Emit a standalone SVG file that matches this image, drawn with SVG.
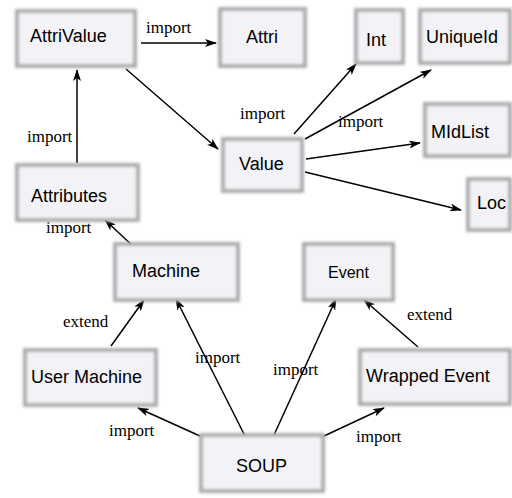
<svg xmlns="http://www.w3.org/2000/svg" width="512" height="498" viewBox="0 0 512 498">
<style>
.box{fill:#f3f3f7;stroke:#ababab;stroke-width:4;filter:url(#blur)}
.t{font-family:"Liberation Sans",Arial,sans-serif;font-size:18px;font-weight:normal;fill:#000}
.lbl{font-family:"Liberation Serif","Times New Roman",serif;font-size:17px;fill:#000}
.e{stroke:#000;stroke-width:1.5;fill:none;marker-end:url(#arr)}
</style>
<defs>
<filter id="blur" x="-10%" y="-10%" width="120%" height="120%"><feGaussianBlur stdDeviation="1.5"/></filter>
<marker id="arr" viewBox="0 0 12 8" refX="11" refY="4" markerWidth="12" markerHeight="8" markerUnits="userSpaceOnUse" orient="auto">
<path d="M0,0 L12,4 L0,8 L3,4 Z" fill="#000"/>
</marker>
</defs>
<rect width="512" height="498" fill="#fff"/>
<g id="connectors">
<line class="e" x1="141" y1="43" x2="216" y2="43"/>
<line class="e" x1="126" y1="69" x2="218" y2="149"/>
<line class="e" x1="77" y1="163" x2="77" y2="70"/>
<line class="e" x1="134" y1="247" x2="105" y2="220"/>
<line class="e" x1="294" y1="134" x2="356" y2="64"/>
<line class="e" x1="305" y1="139" x2="431" y2="70"/>
<line class="e" x1="306" y1="159" x2="420" y2="143"/>
<line class="e" x1="305" y1="172" x2="461" y2="210"/>
<line class="e" x1="111" y1="346" x2="144" y2="300"/>
<line class="e" x1="200" y1="436" x2="138" y2="408"/>
<line class="e" x1="245" y1="436" x2="176" y2="299"/>
<line class="e" x1="274" y1="435" x2="336" y2="299"/>
<line class="e" x1="418" y1="347" x2="364" y2="300"/>
<line class="e" x1="324" y1="436" x2="384" y2="408"/>
</g>
<g id="labels">
<text class="lbl" x="146" y="33">import</text>
<text class="lbl" x="240" y="119">import</text>
<text class="lbl" x="338" y="127">import</text>
<text class="lbl" x="27" y="142">import</text>
<text class="lbl" x="46" y="233">import</text>
<text class="lbl" x="63" y="327">extend</text>
<text class="lbl" x="195" y="363">import</text>
<text class="lbl" x="273" y="375">import</text>
<text class="lbl" x="407" y="320">extend</text>
<text class="lbl" x="109" y="436">import</text>
<text class="lbl" x="356" y="442">import</text>
</g>
<g id="AttriValue"><rect class="box" x="17" y="11" width="118" height="55"/><text class="t" x="30" y="42">AttriValue</text></g>
<g id="Attri"><rect class="box" x="220" y="9" width="85" height="57"/><text class="t" x="246" y="43">Attri</text></g>
<g id="Int"><rect class="box" x="356" y="10" width="47" height="53"/><text class="t" x="366" y="46">Int</text></g>
<g id="UniqueId"><rect class="box" x="420" y="10" width="90" height="53"/><text class="t" x="426" y="43">UniqueId</text></g>
<g id="MIdList"><rect class="box" x="425" y="104" width="85" height="52"/><text class="t" x="431" y="138">MIdList</text></g>
<g id="Value"><rect class="box" x="223" y="139" width="79" height="52"/><text class="t" x="239" y="170">Value</text></g>
<g id="Loc"><rect class="box" x="468" y="179" width="42" height="51"/><text class="t" x="477" y="209">Loc</text></g>
<g id="Attributes"><rect class="box" x="17" y="165" width="121" height="55"/><text class="t" x="31" y="202">Attributes</text></g>
<g id="Machine"><rect class="box" x="115" y="244" width="123" height="56"/><text class="t" x="132" y="277">Machine</text></g>
<g id="Event"><rect class="box" x="304" y="244" width="89" height="56"/><text class="t" x="328" y="278" style="font-size:16px">Event</text></g>
<g id="UserMachine"><rect class="box" x="25" y="350" width="131" height="55"/><text class="t" x="31" y="383">User Machine</text></g>
<g id="WrappedEvent"><rect class="box" x="360" y="350" width="150" height="54"/><text class="t" x="366" y="382">Wrapped Event</text></g>
<g id="SOUP"><rect class="box" x="201" y="435" width="122" height="56"/><text class="t" x="236" y="472">SOUP</text></g>
</svg>
